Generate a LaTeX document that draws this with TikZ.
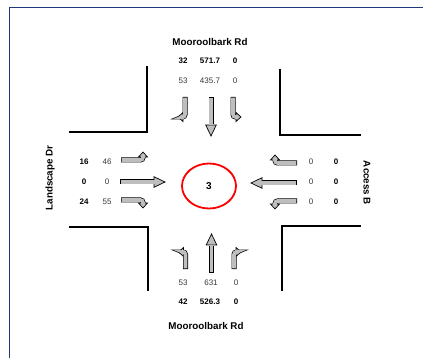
\documentclass[tikz,border=0pt]{standalone}
\usepackage{fontspec}
\setmainfont{Liberation Sans}
\usetikzlibrary{shapes.geometric}
\definecolor{frameblue}{RGB}{31,56,120}
\definecolor{arrowgray}{RGB}{190,190,190}
\definecolor{volgray}{RGB}{55,55,55}

% turning movement arrow: start, corner, head base, head angle, head tip
\newcommand{\turnarrow}[5]{%
  \draw[arrowline, rounded corners=2.5pt] #1 -- #2 -- #3;
  \filldraw[arrowhead, shift={#5}, rotate=#4] (0,0) -- (-5,4.5) -- (-5,-4.5) -- cycle;
  \draw[arrowcore, rounded corners=2.5pt] #1 -- #2 -- #3;
}
% through movement arrow: start, head base, head angle, head tip
\newcommand{\througharrow}[4]{%
  \draw[arrowline] #1 -- #2;
  \filldraw[arrowhead, shift={#4}, rotate=#3] (0,0) -- (-11,5.3) -- (-11,-5.3) -- cycle;
  \draw[arrowcore] #1 -- #2;
}

\begin{document}
\begin{tikzpicture}[x=1pt, y=-1pt,
  road/.style={line width=1.8pt, black},
  arrowline/.style={line width=5pt, black},
  arrowcore/.style={line width=3.6pt, arrowgray, shorten <=0.7pt, shorten >=-1pt},
  arrowhead/.style={fill=arrowgray, draw=black, line width=0.7pt, line join=miter},
  streetname/.style={font=\bfseries\fontsize{9.8}{11}\selectfont},
  volbold/.style={font=\bfseries\fontsize{8}{9}\selectfont, text=black},
  volplain/.style={font=\fontsize{8}{9}\selectfont, text=volgray},
  site/.style={draw=red, line width=1.8pt, ellipse, minimum width=54pt, minimum height=45pt, inner sep=0pt, font=\bfseries\fontsize{10}{12}\selectfont}]

\useasboundingbox (0,0) rectangle (423,358);
\fill[white] (0,0) rectangle (423,358);

% page frame
\draw[line width=1.8pt, frameblue] (9.5,358) -- (9.5,7.5) -- (423,7.5);

% kerb lines of the four corners
\draw[road] (69,132) -- (147,132) -- (147,66);
\draw[road] (280,69) -- (280,135) -- (361,135);
\draw[road] (69,227) -- (148,227) -- (148,291);
\draw[road] (282,291) -- (282,226) -- (361,226);

% street names
\node[streetname] (nname) at (210,42) {Mooroolbark Rd};
\node[streetname] (sname) at (206,326) {Mooroolbark Rd};
\node[streetname, rotate=90] (wname) at (50,178) {Landscape Dr};
\node[streetname, rotate=-90] (ename) at (367,183) {Access B};

% intersection number
\node[site] (site) at (209,186) {3};

% north approach volumes
\node[volbold] (nb1) at (183,61) {32};
\node[volbold] (nb2) at (210,61) {571.7};
\node[volbold] (nb3) at (235,61) {0};
\node[volplain] (np1) at (183,81) {53};
\node[volplain] (np2) at (210,81) {435.7};
\node[volplain] (np3) at (235,81) {0};

% south approach volumes
\node[volplain] (sp1) at (183,283) {53};
\node[volplain] (sp2) at (211,283) {631};
\node[volplain] (sp3) at (236,283) {0};
\node[volbold] (sb1) at (183,302) {42};
\node[volbold] (sb2) at (210,302) {526.3};
\node[volbold] (sb3) at (236,302) {0};

% west approach volumes
\node[volbold] (wb1) at (84,162) {16};
\node[volbold] (wb2) at (84,182) {0};
\node[volbold] (wb3) at (84,202) {24};
\node[volplain] (wp1) at (107,162) {46};
\node[volplain] (wp2) at (107,182) {0};
\node[volplain] (wp3) at (107,202) {55};

% east approach volumes
\node[volplain] (ep1) at (311,162) {0};
\node[volplain] (ep2) at (311,182) {0};
\node[volplain] (ep3) at (311,202) {0};
\node[volbold] (eb1) at (336,162) {0};
\node[volbold] (eb2) at (336,182) {0};
\node[volbold] (eb3) at (336,202) {0};

% north approach movements
\turnarrow{(185,97)}{(185,117)}{(183,117)}{180}{(178,117)}
\througharrow{(211,97)}{(211,124)}{270}{(211,136)}
\turnarrow{(233,97)}{(233,117)}{(236,117)}{0}{(241,117)}

% south approach movements
\turnarrow{(185.5,269)}{(185.5,252)}{(183.5,252)}{180}{(178.5,252)}
\througharrow{(211.5,273)}{(211.5,246)}{90}{(211.5,234)}
\turnarrow{(234,269)}{(234,252)}{(236,252)}{0}{(241,252)}

% west approach movements
\turnarrow{(121,160)}{(143,160)}{(143,157)}{90}{(143,152)}
\througharrow{(120,182)}{(155,182)}{0}{(165,182)}
\turnarrow{(121,200)}{(143,200)}{(143,203)}{270}{(143,208)}

% east approach movements
\turnarrow{(297,163)}{(275,163)}{(275,160)}{90}{(275,155)}
\througharrow{(297,183)}{(262,183)}{180}{(251,183)}
\turnarrow{(297,201)}{(275,201)}{(275,204)}{270}{(275,209)}

\end{tikzpicture}
\end{document}
